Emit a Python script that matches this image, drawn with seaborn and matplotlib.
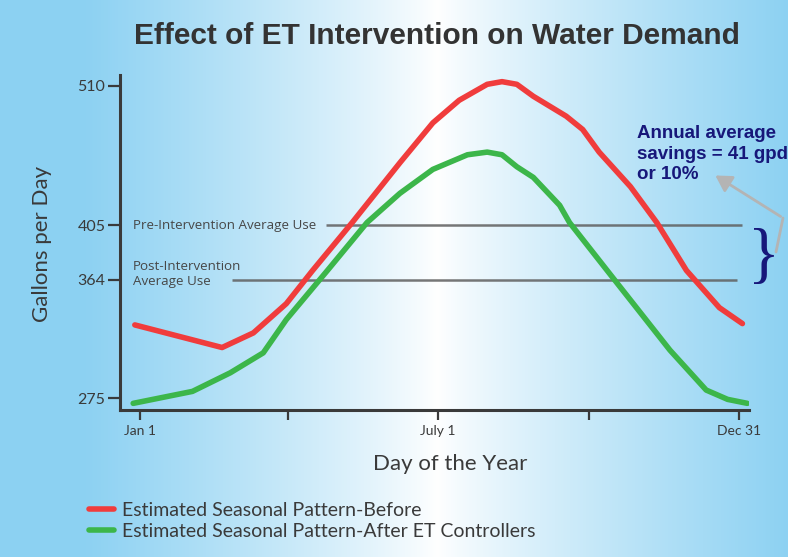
import numpy as np
import pandas as pd
import matplotlib
matplotlib.use("Agg")
import matplotlib.pyplot as plt
import seaborn as sns
from matplotlib.patches import FancyArrowPatch
from matplotlib.lines import Line2D

# values (day of year, gallons per day)
days_before = [-2, 51, 70, 90, 106, 130, 159, 179, 195, 212, 221, 230, 240,
               260, 270, 280, 299, 315, 333, 353, 367]
gpd_before = [330, 313, 324, 346, 371, 407, 452, 482, 499, 511, 513, 511, 502,
              487, 477, 460, 434, 407, 371, 343, 331]
days_after = [-3, 33, 56, 76, 90, 115, 139, 159, 179, 200, 212, 221, 230, 240,
              256, 262, 288, 323, 345, 358, 370]
gpd_after = [271, 280, 294, 309, 334, 371, 407, 429, 447, 458, 460, 458, 449,
             441, 420, 407, 366, 311, 281, 274, 271]

series_names = ["Estimated Seasonal Pattern-Before",
                "Estimated Seasonal Pattern-After ET Controllers"]
y_ticks = [275, 364, 405, 510]
x_major = [1, 182, 365]
x_major_labels = ["Jan 1", "July 1", "Dec 31"]
x_minor = [91, 274]
pre_avg = 405
post_avg = 364

df = pd.concat([
    pd.DataFrame({"day": days_before, "gpd": gpd_before, "series": series_names[0]}),
    pd.DataFrame({"day": days_after, "gpd": gpd_after, "series": series_names[1]}),
])

sns.set_theme(style="white")
plt.rcParams["font.family"] = ["Lato", "DejaVu Sans"]

W, H = 788, 557
fig = plt.figure(figsize=(W / 100, H / 100), dpi=100)

# background gradient: light blue edges, white near the middle
bg = fig.add_axes([0, 0, 1, 1], zorder=-10)
edge = np.array([0.55, 0.82, 0.95])
xs = np.linspace(0, 1, 400)
t = np.clip(np.abs(xs - 0.555) / 0.45, 0, 1) ** 0.85
row = (1 - t)[:, None] * np.ones(3) + t[:, None] * edge
bg.imshow(row[None, :, :], aspect="auto", extent=[0, 1, 0, 1])
bg.set_axis_off()

ax = fig.add_axes([120 / W, 1 - 410 / H, 629 / W, 335 / H])
ax.set_facecolor("none")

sns.lineplot(data=df, x="day", y="gpd", hue="series", estimator=None,
             palette=["#f03c3c", "#3cb64a"], linewidth=4, ax=ax, zorder=3)

ax.set_xlim(-11, 371)
ax.set_ylim(266, 518)

dark = "#3a3a3a"
for s in ["top", "right"]:
    ax.spines[s].set_visible(False)
for s in ["left", "bottom"]:
    ax.spines[s].set_color(dark)
    ax.spines[s].set_linewidth(2.2)

ax.set_yticks(y_ticks)
ax.set_yticklabels([str(v) for v in y_ticks], fontsize=11.5, color=dark)
ax.set_xticks(x_major)
ax.set_xticklabels(x_major_labels, fontsize=10, color=dark)
ax.set_xticks(x_minor, minor=True)
ax.tick_params(axis="y", direction="out", length=8.5, width=1.6, color=dark,
               pad=2, left=True)
ax.tick_params(axis="x", which="both", direction="out", length=7.5, width=1.6,
               color=dark, pad=3, bottom=True)

ax.set_xlabel("Day of the Year", fontsize=16, color=dark)
ax.set_ylabel("Gallons per Day", fontsize=16, color=dark)
ax.xaxis.set_label_coords((450 - 120) / 629, -(454 - 410) / 335)
ax.yaxis.set_label_coords(-(120 - 52) / 629, (410 - 244) / 335)

# average use reference lines
ax.hlines(pre_avg, 114, 367, color="#5f5f5f", alpha=0.85, linewidth=1.8, zorder=2)
ax.hlines(post_avg, 57, 364, color="#5f5f5f", alpha=0.85, linewidth=1.8, zorder=2)
ax.text(-3, pre_avg, "Pre-Intervention Average Use", fontsize=9.6,
        color="#474747", va="center", ha="left",
        family=["Open Sans", "DejaVu Sans"])
ax.text(-3, post_avg - 6, "Post-Intervention\nAverage Use", fontsize=9.6,
        color="#474747", va="bottom", ha="left", linespacing=1.15,
        family=["Open Sans", "DejaVu Sans"])

fig.text(437 / W, 1 - 36 / H, "Effect of ET Intervention on Water Demand",
         fontsize=21.5, fontweight="bold", color="#333333", ha="center",
         va="center", family=["Liberation Sans", "DejaVu Sans"])

navy = "#17177a"
fig.text(637 / W, 1 - 125 / H, "Annual average\nsavings = 41 gpd\nor 10%",
         fontsize=13.5, fontweight="bold", color=navy, ha="left", va="top",
         linespacing=1.27, family=["Liberation Sans", "DejaVu Sans"])
fig.text(764 / W, 1 - 259 / H, "}", fontsize=48, color=navy, ha="center",
         va="center", family=["Liberation Serif", "DejaVu Serif"])

grey = "#b4b4b4"
fig.add_artist(Line2D([776 / W, 783 / W], [1 - 252 / H, 1 - 218 / H],
                      color=grey, linewidth=2, transform=fig.transFigure))
fig.add_artist(FancyArrowPatch((783 / W, 1 - 218 / H), (713 / W, 1 - 174 / H),
                               transform=fig.transFigure, color=grey,
                               arrowstyle="-|>,head_length=6,head_width=3.5",
                               linewidth=2, mutation_scale=1.6))

leg = ax.legend(loc="upper left", bbox_to_anchor=(89 / W, 1 - 502 / H),
                bbox_transform=fig.transFigure, frameon=False, fontsize=14,
                handlelength=1.3, handletextpad=0.4, labelspacing=0.2,
                borderpad=0, borderaxespad=0)
for line in leg.get_lines():
    line.set_linewidth(4)
for txt in leg.get_texts():
    txt.set_color(dark)

fig.savefig("out.png", dpi=100)
